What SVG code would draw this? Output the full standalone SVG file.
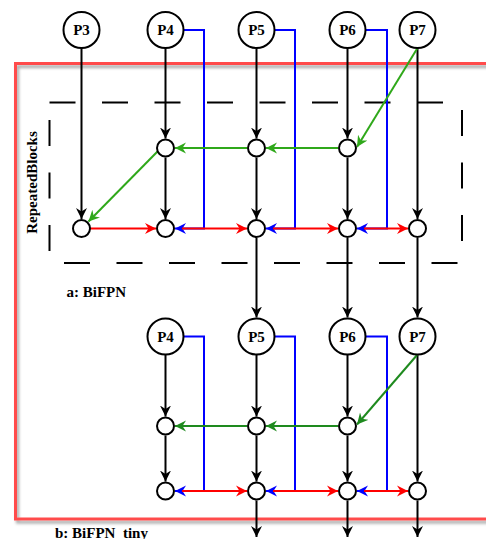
<svg xmlns="http://www.w3.org/2000/svg" width="486" height="539" viewBox="0 0 486 539">
<style>
.big{fill:#fff;stroke:#000;stroke-width:2}
.sm{fill:#fff;stroke:#000;stroke-width:2}
.lbl{font-family:"Liberation Serif","Times New Roman",serif;font-weight:bold;font-size:15px;text-anchor:middle;fill:#000}
.cap{font-family:"Liberation Serif","Times New Roman",serif;font-weight:bold;font-size:15px;fill:#000}
.k{fill:none;stroke:#000;stroke-width:2;marker-end:url(#ak)}
.r{fill:none;stroke:#ff0000;stroke-width:2;marker-end:url(#ar)}
.b{fill:none;stroke:#0000ff;stroke-width:2;marker-end:url(#ab)}
.g1{fill:none;stroke:#2fa81a;stroke-width:2;marker-end:url(#ag1)}
.g2{fill:none;stroke:#1e8a1e;stroke-width:2;marker-end:url(#ag2)}
</style>
<defs>
<filter id="sh" x="-5%" y="-5%" width="110%" height="110%">
<feDropShadow dx="2" dy="3" stdDeviation="1.8" flood-color="#000" flood-opacity="0.35"/>
</filter>
<marker id="ak" viewBox="0 0 12 12" refX="11" refY="6" markerWidth="12" markerHeight="12" markerUnits="userSpaceOnUse" orient="auto"><path d="M11,6 L0,0.5 L3.5,6 L0,11.5 Z" fill="#000"/></marker>
<marker id="ar" viewBox="0 0 12 12" refX="11" refY="6" markerWidth="12" markerHeight="12" markerUnits="userSpaceOnUse" orient="auto"><path d="M11,6 L0,0.5 L3.5,6 L0,11.5 Z" fill="#ff0000"/></marker>
<marker id="ab" viewBox="0 0 12 12" refX="11" refY="6" markerWidth="12" markerHeight="12" markerUnits="userSpaceOnUse" orient="auto"><path d="M11,6 L0,0.5 L3.5,6 L0,11.5 Z" fill="#0000ff"/></marker>
<marker id="ag1" viewBox="0 0 12 12" refX="11" refY="6" markerWidth="12" markerHeight="12" markerUnits="userSpaceOnUse" orient="auto"><path d="M11,6 L0,0.5 L3.5,6 L0,11.5 Z" fill="#2fa81a"/></marker>
<marker id="ag2" viewBox="0 0 12 12" refX="11" refY="6" markerWidth="12" markerHeight="12" markerUnits="userSpaceOnUse" orient="auto"><path d="M11,6 L0,0.5 L3.5,6 L0,11.5 Z" fill="#1e8a1e"/></marker>
</defs>
<rect width="486" height="539" fill="#fff"/>
<g id="frame">
<rect x="15.5" y="63.5" width="490" height="455.5" fill="none" stroke="#ff4b4b" stroke-width="3" filter="url(#sh)"/>
<rect x="49.5" y="102.5" width="412.5" height="160.5" fill="none" stroke="#000" stroke-width="2" stroke-dasharray="26 26.5"/>
</g>
<g id="connectors">
<!-- blue skip connections -->
<path class="b" d="M183.5,30 H204 V228.5 H175"/>
<path class="b" d="M274.5,30 H295 V228.5 H266"/>
<path class="b" d="M365.5,30 H387 V228.5 H357"/>
<path class="b" d="M183.5,336.5 H204 V491 H175"/>
<path class="b" d="M274.5,336.5 H295 V491 H266"/>
<path class="b" d="M365.5,336.5 H387 V491 H357"/>
<!-- black verticals upper -->
<path class="k" d="M81.5,48 V219"/>
<path class="k" d="M165.5,48 V138.5"/>
<path class="k" d="M165.5,157.5 V219"/>
<path class="k" d="M256.5,48 V138.5"/>
<path class="k" d="M256.5,157.5 V219"/>
<path class="k" d="M256.5,238 V317.5"/>
<path class="k" d="M347.5,48 V138.5"/>
<path class="k" d="M347.5,157.5 V219"/>
<path class="k" d="M347.5,238 V317.5"/>
<path class="k" d="M417.5,48 V219"/>
<path class="k" d="M417.5,238 V317.5"/>
<!-- black verticals lower -->
<path class="k" d="M165.5,354.5 V416.5"/>
<path class="k" d="M165.5,435.5 V481.5"/>
<path class="k" d="M256.5,354.5 V416.5"/>
<path class="k" d="M256.5,435.5 V481.5"/>
<path class="k" d="M256.5,500.5 V537"/>
<path class="k" d="M347.5,354.5 V416.5"/>
<path class="k" d="M347.5,435.5 V481.5"/>
<path class="k" d="M347.5,500.5 V537"/>
<path class="k" d="M417.5,354.5 V481.5"/>
<path class="k" d="M417.5,500.5 V537"/>
<!-- green top-down -->
<path class="g1" d="M417.5,48 L357,147"/>
<path class="g1" d="M338,148 H266"/>
<path class="g1" d="M247,148 H175"/>
<path class="g1" d="M157.5,151.5 L88.5,221.5"/>
<path class="g2" d="M417.5,354.5 L357,424.5"/>
<path class="g2" d="M338,426 H266"/>
<path class="g2" d="M247,426 H175"/>
<!-- red bottom-up -->
<path class="r" d="M90,228.5 H156"/>
<path class="r" d="M182,228.5 H247"/>
<path class="r" d="M273,228.5 H338"/>
<path class="r" d="M364,228.5 H408"/>
<path class="r" d="M182,491 H247"/>
<path class="r" d="M273,491 H338"/>
<path class="r" d="M364,491 H408"/>
</g>
<g id="P3"><circle class="big" cx="81.5" cy="30" r="18"/><text class="lbl" x="81.5" y="35">P3</text></g>
<g id="P4"><circle class="big" cx="165.5" cy="30" r="18"/><text class="lbl" x="165.5" y="35">P4</text></g>
<g id="P5"><circle class="big" cx="256.5" cy="30" r="18"/><text class="lbl" x="256.5" y="35">P5</text></g>
<g id="P6"><circle class="big" cx="347.5" cy="30" r="18"/><text class="lbl" x="347.5" y="35">P6</text></g>
<g id="P7"><circle class="big" cx="417.5" cy="30" r="18"/><text class="lbl" x="417.5" y="35">P7</text></g>
<g id="a_P4_mid"><circle class="sm" cx="165.5" cy="148" r="8.5"/></g>
<g id="a_P5_mid"><circle class="sm" cx="256.5" cy="148" r="8.5"/></g>
<g id="a_P6_mid"><circle class="sm" cx="347.5" cy="148" r="8.5"/></g>
<g id="a_P3_out"><circle class="sm" cx="81.5" cy="228.5" r="8.5"/></g>
<g id="a_P4_out"><circle class="sm" cx="165.5" cy="228.5" r="8.5"/></g>
<g id="a_P5_out"><circle class="sm" cx="256.5" cy="228.5" r="8.5"/></g>
<g id="a_P6_out"><circle class="sm" cx="347.5" cy="228.5" r="8.5"/></g>
<g id="a_P7_out"><circle class="sm" cx="417.5" cy="228.5" r="8.5"/></g>
<g id="b_P4"><circle class="big" cx="165.5" cy="336.5" r="18"/><text class="lbl" x="165.5" y="341.5">P4</text></g>
<g id="b_P5"><circle class="big" cx="256.5" cy="336.5" r="18"/><text class="lbl" x="256.5" y="341.5">P5</text></g>
<g id="b_P6"><circle class="big" cx="347.5" cy="336.5" r="18"/><text class="lbl" x="347.5" y="341.5">P6</text></g>
<g id="b_P7"><circle class="big" cx="417.5" cy="336.5" r="18"/><text class="lbl" x="417.5" y="341.5">P7</text></g>
<g id="b_P4_mid"><circle class="sm" cx="165.5" cy="426" r="8.5"/></g>
<g id="b_P5_mid"><circle class="sm" cx="256.5" cy="426" r="8.5"/></g>
<g id="b_P6_mid"><circle class="sm" cx="347.5" cy="426" r="8.5"/></g>
<g id="b_P4_out"><circle class="sm" cx="165.5" cy="491" r="8.5"/></g>
<g id="b_P5_out"><circle class="sm" cx="256.5" cy="491" r="8.5"/></g>
<g id="b_P6_out"><circle class="sm" cx="347.5" cy="491" r="8.5"/></g>
<g id="b_P7_out"><circle class="sm" cx="417.5" cy="491" r="8.5"/></g>
<g id="labels">
<text class="cap" text-anchor="middle" transform="translate(37,182.5) rotate(-90)">RepeatedBlocks</text>
<text class="cap" x="66.5" y="296.5">a: BiFPN</text>
<text class="cap" x="55" y="537.5">b: BiFPN_tiny</text>
</g>
</svg>
